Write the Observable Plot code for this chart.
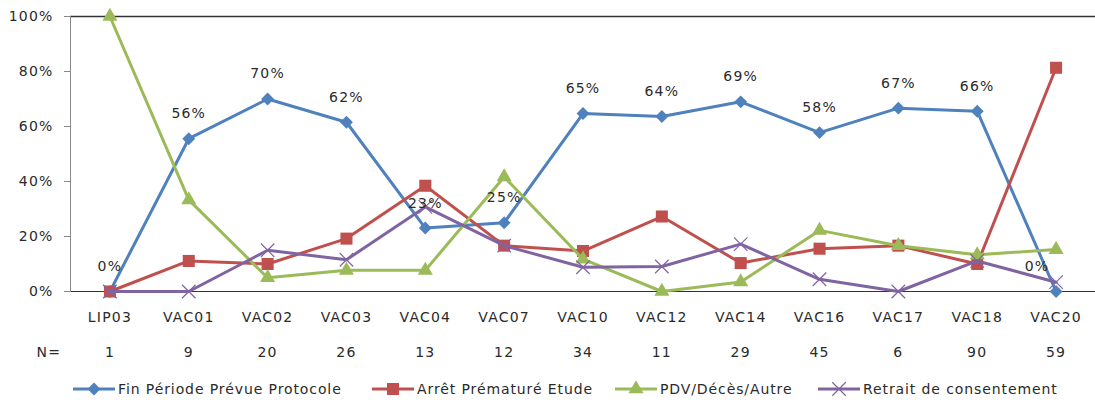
<!DOCTYPE html>
<html>
<head>
<meta charset="utf-8">
<script src="https://cdn.jsdelivr.net/npm/d3@7"></script>
<script src="https://cdn.jsdelivr.net/npm/@observablehq/plot@0.6"></script>
<style>
  html, body { margin: 0; padding: 0; background: #fff; }
  #chart { width: 1095px; }
  #legend { position: relative; height: 28px; width: 1095px; font-family: "DejaVu Sans", sans-serif; font-size: 14px; letter-spacing: 0.9px; color: #2a2a2a; }
  #legend .item { position: absolute; top: 0; height: 28px; display: flex; align-items: center; white-space: nowrap; }
  #legend svg { margin-right: 3px; }
</style>
</head>
<body>
<div id="chart"></div>
<div id="legend"></div>
<script>
const categories = ["LIP03","VAC01","VAC02","VAC03","VAC04","VAC07","VAC10","VAC12","VAC14","VAC16","VAC17","VAC18","VAC20"];
const nValues = [1, 9, 20, 26, 13, 12, 34, 11, 29, 45, 6, 90, 59];
const fin     = [0, 0.5556, 0.70, 0.6154, 0.2308, 0.25, 0.6471, 0.6364, 0.6897, 0.5778, 0.6667, 0.6556, 0];
const arret   = [0, 0.1111, 0.10, 0.1923, 0.3846, 0.1667, 0.1471, 0.2727, 0.1034, 0.1556, 0.1667, 0.10, 0.8136];
const pdv     = [1.0, 0.3333, 0.05, 0.0769, 0.0769, 0.4167, 0.1176, 0, 0.0345, 0.2222, 0.1667, 0.1333, 0.1525];
const retrait = [0, 0, 0.15, 0.1154, 0.3077, 0.1667, 0.0882, 0.0909, 0.1724, 0.0444, 0, 0.1111, 0.0339];
const seriesNames = ["Fin Période Prévue Protocole", "Arrêt Prématuré Etude", "PDV/Décès/Autre", "Retrait de consentement"];
const seriesColors = ["#4F81BD", "#C0504D", "#9BBB59", "#8064A2"];
const yTicks = [0, 0.2, 0.4, 0.6, 0.8, 1];
const nLabel = "N=";

const fmt = d3.format(".0%");
const rows = vals => categories.map((c, i) => ({cat: c, v: vals[i], n: nValues[i], i}));
const seriesValues = [fin, arret, pdv, retrait];
const symbols = ["diamond2", "square", "triangle", "times"];
const radii = [5.8, 6.8, 5.6, 6.2];

const seriesMarks = seriesValues.flatMap((vals, s) => {
  const data = rows(vals);
  const color = seriesColors[s];
  const line = Plot.lineY(data, {x: "cat", y: "v", stroke: color, strokeWidth: 3, strokeLinejoin: "round"});
  const dot = symbols[s] === "times"
    ? Plot.dot(data, {x: "cat", y: "v", symbol: "times", r: radii[s], stroke: color, strokeWidth: 1.2, fill: "none"})
    : Plot.dot(data, {x: "cat", y: "v", symbol: symbols[s], r: radii[s], fill: color, stroke: "none"});
  return [line, dot];
});

const finRows = rows(fin);

const chart = Plot.plot({
  width: 1095,
  height: 375,
  marginLeft: 70,
  marginRight: 0,
  marginTop: 16,
  marginBottom: 84,
  style: {fontFamily: "DejaVu Sans, sans-serif", fontSize: "14px", color: "#2a2a2a", background: "#fff", letterSpacing: "1.2px"},
  x: {type: "point", domain: categories, padding: 0.5, round: false},
  y: {domain: [0, 1]},
  marks: [
    Plot.ruleY([0], {stroke: "#333", strokeWidth: 1.2}),
    Plot.ruleY([1], {stroke: "#333", strokeWidth: 1.4}),
    Plot.frame({anchor: "left", stroke: "#888"}),
    Plot.axisY({ticks: yTicks, tickFormat: fmt, tickSize: 6, tickPadding: 11, stroke: "#888", label: null}),
    Plot.axisX({tickSize: 0, tickPadding: 21, label: null}),
    ...seriesMarks,
    Plot.text(finRows.filter(d => d.i < categories.length - 1), {x: "cat", y: "v", text: d => fmt(d.v), dy: -25, fill: "#2a2a2a", style: "letter-spacing:0.6px"}),
    Plot.text(finRows.filter(d => d.i === categories.length - 1), {x: "cat", y: "v", text: d => fmt(d.v), dy: -25, dx: -19, fill: "#2a2a2a"}),
    Plot.text(finRows, {x: "cat", text: "n", frameAnchor: "bottom", dy: 65, fill: "#2a2a2a"}),
    Plot.text([nLabel], {text: d => d, frameAnchor: "bottom-left", dx: -34, dy: 65, fill: "#2a2a2a"})
  ]
});
document.getElementById("chart").appendChild(chart);

// Legend
const legendLeft = [73, 372, 615, 818];
const legend = d3.select("#legend");
seriesNames.forEach((name, s) => {
  const item = legend.append("div").attr("class", "item").style("left", legendLeft[s] + "px");
  const sw = item.append("svg").attr("width", 42).attr("height", 16);
  sw.append("line").attr("x1", 0).attr("x2", 42).attr("y1", 8).attr("y2", 8)
    .attr("stroke", seriesColors[s]).attr("stroke-width", 3);
  const sym = {diamond2: d3.symbolDiamond2, square: d3.symbolSquare, triangle: d3.symbolTriangle, times: d3.symbolTimes}[symbols[s]];
  const path = d3.symbol(sym, Math.PI * radii[s] * radii[s])();
  const p = sw.append("path").attr("d", path).attr("transform", "translate(21,8)");
  if (symbols[s] === "times") p.attr("fill", "none").attr("stroke", seriesColors[s]).attr("stroke-width", 1.2);
  else p.attr("fill", seriesColors[s]);
  item.append("span").text(name);
});
</script>
</body>
</html>
